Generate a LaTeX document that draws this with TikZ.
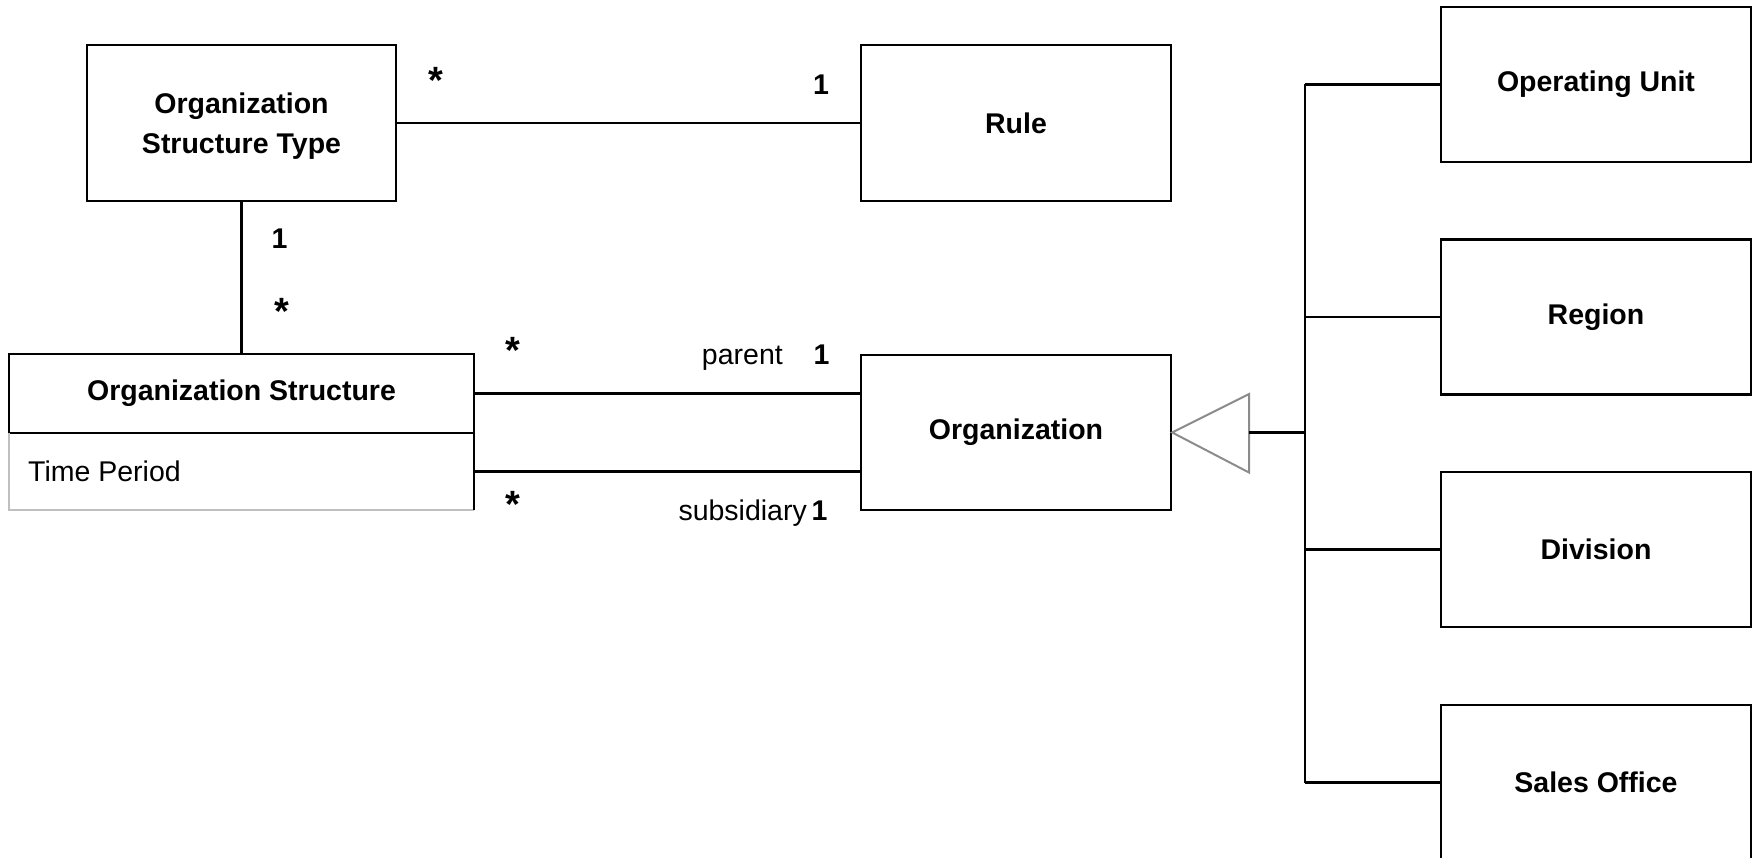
\documentclass[tikz,border=0pt]{standalone}
\usepackage{fontspec}
\setmainfont{Liberation Sans}
\begin{document}
\begin{tikzpicture}[x=1pt,y=-1pt,
  box/.style={draw=black,line width=2.4pt,rectangle,inner sep=0pt,align=center,
    font=\fontsize{28.5}{40}\selectfont\bfseries,minimum width=310pt,minimum height=155pt},
  boxtext/.style={inner sep=0pt,align=center,font=\fontsize{28.5}{40}\selectfont\bfseries},
  lbl/.style={inner sep=0pt,font=\fontsize{28.5}{34}\selectfont\bfseries},
  star/.style={inner sep=0pt,font=\fontsize{38}{40}\selectfont\bfseries},
  role/.style={inner sep=0pt,font=\fontsize{28.5}{34}\selectfont},
  conn/.style={draw=black,line width=2.2pt}]
\clip (0,0) rectangle (1753,858);
\fill[white] (0,0) rectangle (1753,858);
% left side classes
\node[box,minimum width=309pt,minimum height=156pt] (ost) at (241.5,123) {};
\node[boxtext] (osttext) at ([yshift=-3.5pt]ost.center) {Organization\\Structure Type};
\node[box,minimum height=156pt] (rule) at (1016,123) {Rule};
\node[box,minimum width=465pt,minimum height=79pt] (os) at (241.5,393.5) {Organization Structure};
\node[inner sep=0pt,minimum width=465pt,minimum height=77pt] (osattr) at (241.5,471.5) {};
\draw[draw=black!25,line width=2.2pt] (osattr.north west) -- (osattr.south west) -- (osattr.south east);
\draw[draw=black,line width=2.4pt] (osattr.north east) -- (osattr.south east);
\node[role,anchor=base west] (tp) at (28,481) {Time Period};
\node[box] (org) at (1016,432.5) {Organization};
% subclasses
\node[box] (ou) at (1596,84.5) {Operating Unit};
\node[box] (region) at (1596,317) {Region};
\node[box] (division) at (1596,549.5) {Division};
\node[box] (sales) at (1596,782.5) {Sales Office};
% associations
\draw[conn] (ost.east) -- (rule.west);
\draw[conn] (ost.south) -- (os.north);
\draw[conn] (os.east) -- (org.west |- os.east);
\draw[conn] (osattr.east) -- (org.west |- osattr.east);
% multiplicities and roles
\node[star,anchor=north] (m1) at (436,67) {*};
\node[lbl,anchor=base] (m2) at (821,95) {1};
\node[lbl,anchor=base] (m3) at (279.5,249) {1};
\node[star,anchor=north] (m4) at (281.5,298) {*};
\node[star,anchor=north] (m5) at (513,337) {*};
\node[role,anchor=base east] (rparent) at (783,365) {parent};
\node[lbl,anchor=base] (m6) at (821.5,365) {1};
\node[star,anchor=north] (m7) at (513,491) {*};
\node[role,anchor=base east] (rsub) at (807,520) {subsidiary};
\node[lbl,anchor=base] (m8) at (819.5,520) {1};
% generalization
\coordinate (tribase) at (1249,432.5);
\coordinate (bus) at (1305,432.5);
\draw[draw=black!45,fill=white,line width=2pt,line join=miter]
  (org.east) -- (1249,394) -- (1249,472.5) -- cycle;
\draw[conn] (tribase) -- (bus);
\draw[conn] (bus |- ou.west) -- (bus |- sales.west);
\draw[conn] (bus |- ou.west) -- (ou.west);
\draw[conn] (bus |- region.west) -- (region.west);
\draw[conn] (bus |- division.west) -- (division.west);
\draw[conn] (bus |- sales.west) -- (sales.west);
\end{tikzpicture}
\end{document}
